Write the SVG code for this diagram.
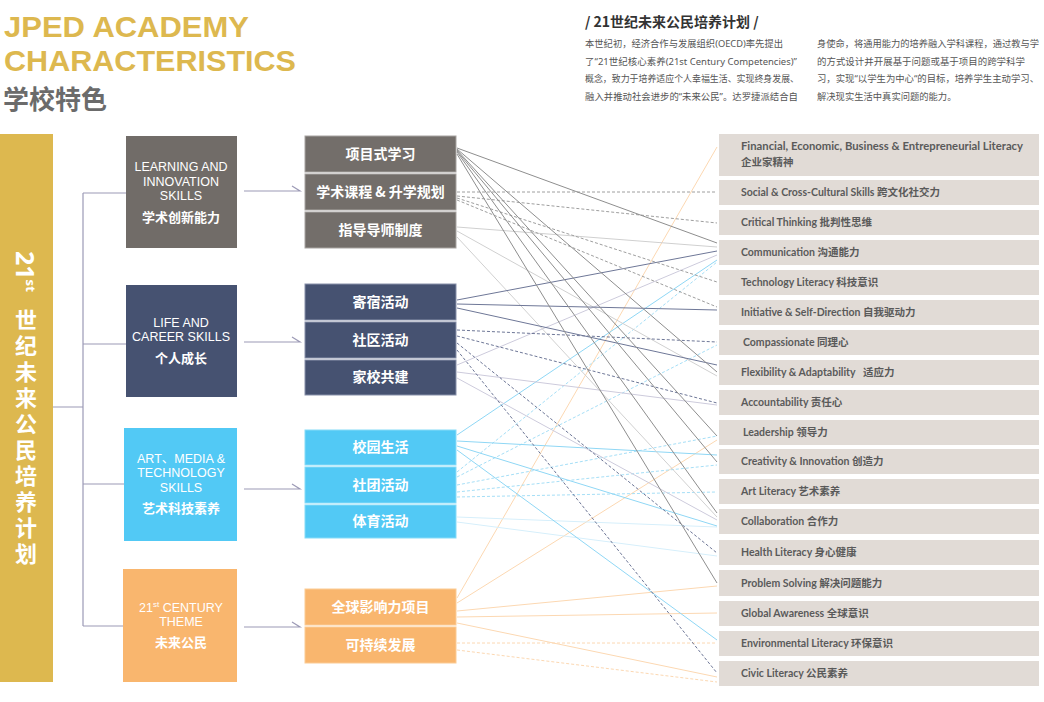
<svg xmlns="http://www.w3.org/2000/svg" width="1044" height="702" viewBox="0 0 1044 702">
<style>
.title{font-family:"Liberation Sans",Arial,sans-serif;font-weight:700;fill:#DDB84F;font-size:30px}
.cn{font-family:"Noto Sans CJK SC","Noto Sans",sans-serif}
.body{font-family:"Noto Sans","Noto Sans CJK SC",sans-serif;font-size:9.3px;fill:#555}
.cat{font-family:"Liberation Sans","Noto Sans CJK SC",sans-serif;font-size:12.5px;fill:#fff;text-anchor:middle}
.catcn{font-family:"Noto Sans CJK SC",sans-serif;font-size:13px;font-weight:700;fill:#fff;text-anchor:middle}
.mid{font-family:"Noto Sans CJK SC",sans-serif;font-size:14px;font-weight:700;fill:#fff;text-anchor:middle}
.rt{font-family:Lato,"Noto Sans CJK SC",sans-serif;font-size:10.5px;font-weight:700;fill:#5a5a5a}
.rbox{fill:#E1DBD6}
.tree{fill:none;stroke:#9C9AB6;stroke-width:1.2}
.c line{stroke-width:1;fill:none}
.g{stroke:#8E8E8E}
.gd{stroke:#9E9E9E;stroke-dasharray:3 2}
.lg{stroke:#D0D0D0}
.nv{stroke:#6E7797}
.nvd{stroke:#6E7797;stroke-dasharray:3 2}
.lv{stroke:#CDCBDC}
.lb{stroke:#8FD7F5}
.lbd{stroke:#A6DFF7;stroke-dasharray:3 2}
.vlb{stroke:#D6EFFB}
.or{stroke:#FCD8B2}
.ord{stroke:#FCD8B2;stroke-dasharray:3 2}
</style>

<!-- Header -->
<g id="header">
<text class="title" x="4" y="37" textLength="245" lengthAdjust="spacingAndGlyphs">JPED ACADEMY</text>
<text class="title" x="4" y="71" textLength="292" lengthAdjust="spacingAndGlyphs">CHARACTERISTICS</text>
<text class="cn" x="3" y="109" font-size="26" font-weight="700" fill="#6B6B6B">学校特色</text>
<text class="cn" x="585" y="27" font-size="14" font-weight="700" fill="#333">/  21世纪未来公民培养计划  /</text>
<g class="body">
<text x="585" y="47" textLength="198" lengthAdjust="spacingAndGlyphs">本世纪初，经济合作与发展组织(OECD)率先提出</text>
<text x="585" y="65" textLength="212" lengthAdjust="spacingAndGlyphs">了“21世纪核心素养(21st Century Competencies)”</text>
<text x="585" y="82" textLength="214" lengthAdjust="spacingAndGlyphs">概念，致力于培养适应个人幸福生活、实现终身发展、</text>
<text x="585" y="100" textLength="213" lengthAdjust="spacingAndGlyphs">融入并推动社会进步的“未来公民”。达罗捷派结合自</text>
<text x="817" y="47" textLength="222" lengthAdjust="spacingAndGlyphs">身使命，将通用能力的培养融入学科课程，通过教与学</text>
<text x="817" y="65" textLength="208" lengthAdjust="spacingAndGlyphs">的方式设计并开展基于问题或基于项目的跨学科学</text>
<text x="817" y="82" textLength="222" lengthAdjust="spacingAndGlyphs">习，实现“以学生为中心“的目标，培养学生主动学习、</text>
<text x="817" y="100">解决现实生活中真实问题的能力。</text>
</g>
</g>

<!-- Left bar -->
<g id="bar">
<rect x="0" y="134" width="53" height="548" fill="#DDB84F"/>
<text transform="translate(16,251) rotate(90)" font-family="Noto Sans,Liberation Sans,sans-serif" font-size="25" font-weight="700" fill="#fff">21<tspan font-size="13" dy="-10">st</tspan></text>
<text class="cn" x="26" y="309" font-size="22" font-weight="700" fill="#fff" style="writing-mode:vertical-rl" letter-spacing="4">世纪未来公民培养计划</text>
</g>

<!-- Tree -->
<g id="tree" class="tree">
<path d="M53,407 H83 M83,193 V626 M83,193 H126 M83,344 H126 M83,484 H124 M83,626 H123"/>
<path d="M244,191 H300 L292,186 M244,342 H300 L292,337 M244,489 H300 L292,484 M244,627 H300 L292,622"/>
</g>

<!-- Category nodes -->
<g id="cat-learning">
<rect x="126" y="136" width="111" height="112" fill="#716C68"/>
<text class="cat" x="181" y="171">LEARNING AND</text>
<text class="cat" x="181" y="186">INNOVATION</text>
<text class="cat" x="181" y="200">SKILLS</text>
<text class="catcn" x="181" y="222">学术创新能力</text>
</g>
<g id="cat-life">
<rect x="126" y="285" width="111" height="112" fill="#465271"/>
<text class="cat" x="181" y="327">LIFE AND</text>
<text class="cat" x="181" y="341">CAREER SKILLS</text>
<text class="catcn" x="181" y="363">个人成长</text>
</g>
<g id="cat-art">
<rect x="124" y="428" width="113" height="113" fill="#52C9F5"/>
<text class="cat" x="181" y="463">ART、MEDIA &amp;</text>
<text class="cat" x="181" y="477">TECHNOLOGY</text>
<text class="cat" x="181" y="492">SKILLS</text>
<text class="catcn" x="181" y="513">艺术科技素养</text>
</g>
<g id="cat-theme">
<rect x="123" y="569" width="114" height="113" fill="#F9B66E"/>
<text class="cat" x="181" y="612">21<tspan font-size="8" dy="-5">st</tspan><tspan dy="5"> CENTURY</tspan></text>
<text class="cat" x="181" y="626">THEME</text>
<text class="catcn" x="181" y="647">未来公民</text>
</g>

<!-- Middle nodes -->
<g id="mid-1"><rect x="305" y="136" width="151" height="36" fill="#736E6A" stroke="#A8A4A1"/><text class="mid" x="380.5" y="159">项目式学习</text></g>
<g id="mid-2"><rect x="305" y="174" width="151" height="36" fill="#736E6A" stroke="#A8A4A1"/><text class="mid" x="380.5" y="197">学术课程 &amp; 升学规划</text></g>
<g id="mid-3"><rect x="305" y="212" width="151" height="36" fill="#736E6A" stroke="#A8A4A1"/><text class="mid" x="380.5" y="235">指导导师制度</text></g>
<g id="mid-4"><rect x="305" y="284" width="151" height="36" fill="#465271" stroke="#8790AA"/><text class="mid" x="380.5" y="307">寄宿活动</text></g>
<g id="mid-5"><rect x="305" y="322" width="151" height="36" fill="#465271" stroke="#8790AA"/><text class="mid" x="380.5" y="345">社区活动</text></g>
<g id="mid-6"><rect x="305" y="360" width="151" height="35" fill="#465271" stroke="#8790AA"/><text class="mid" x="380.5" y="382">家校共建</text></g>
<g id="mid-7"><rect x="305" y="430" width="151" height="35" fill="#52C9F5" stroke="#86DBF8"/><text class="mid" x="380.5" y="452">校园生活</text></g>
<g id="mid-8"><rect x="305" y="467" width="151" height="36" fill="#52C9F5" stroke="#86DBF8"/><text class="mid" x="380.5" y="490">社团活动</text></g>
<g id="mid-9"><rect x="305" y="505" width="151" height="33" fill="#52C9F5" stroke="#86DBF8"/><text class="mid" x="380.5" y="526">体育活动</text></g>
<g id="mid-10"><rect x="305" y="589" width="151" height="36" fill="#F9B66E" stroke="#FBCB94"/><text class="mid" x="380.5" y="612">全球影响力项目</text></g>
<g id="mid-11"><rect x="305" y="627" width="151" height="36" fill="#F9B66E" stroke="#FBCB94"/><text class="mid" x="380.5" y="650">可持续发展</text></g>

<!-- Connectors -->
<g id="connectors" class="c">
<line class="or" x1="457" y1="598" x2="717" y2="147"/>
<line class="or" x1="457" y1="603" x2="717" y2="440"/>
<line class="or" x1="457" y1="611" x2="717" y2="586"/>
<line class="or" x1="457" y1="617" x2="717" y2="613"/>
<line class="or" x1="457" y1="623" x2="717" y2="677"/>
<line class="ord" x1="457" y1="643" x2="717" y2="643"/>
<line class="ord" x1="457" y1="650" x2="717" y2="682"/>
<line class="vlb" x1="457" y1="517" x2="717" y2="527"/>
<line class="vlb" x1="457" y1="522" x2="717" y2="556"/>
<line class="lbd" x1="457" y1="472" x2="717" y2="262"/>
<line class="lbd" x1="457" y1="477" x2="717" y2="345"/>
<line class="lbd" x1="457" y1="485" x2="717" y2="436"/>
<line class="lbd" x1="457" y1="492" x2="717" y2="465"/>
<line class="lbd" x1="457" y1="497" x2="717" y2="492"/>
<line class="lb" x1="457" y1="435" x2="717" y2="260"/>
<line class="lb" x1="457" y1="441" x2="717" y2="455"/>
<line class="lb" x1="457" y1="446" x2="717" y2="526"/>
<line class="lb" x1="457" y1="450" x2="717" y2="640"/>
<line class="lv" x1="457" y1="365" x2="717" y2="255"/>
<line class="lv" x1="457" y1="372" x2="717" y2="405"/>
<line class="lv" x1="457" y1="378" x2="717" y2="520"/>
<line class="lg" x1="457" y1="227" x2="717" y2="247"/>
<line class="lg" x1="457" y1="231" x2="717" y2="376"/>
<line class="lg" x1="457" y1="237" x2="717" y2="517"/>
<line class="nvd" x1="457" y1="330" x2="717" y2="342"/>
<line class="nvd" x1="457" y1="336" x2="717" y2="403"/>
<line class="nvd" x1="457" y1="343" x2="717" y2="553"/>
<line class="nvd" x1="457" y1="350" x2="717" y2="673"/>
<line class="nv" x1="457" y1="300" x2="717" y2="251"/>
<line class="nv" x1="457" y1="304" x2="717" y2="310"/>
<line class="nv" x1="457" y1="308" x2="717" y2="365"/>
<line class="gd" x1="457" y1="192" x2="717" y2="192"/>
<line class="gd" x1="457" y1="196" x2="717" y2="223"/>
<line class="gd" x1="457" y1="198" x2="717" y2="282"/>
<line class="gd" x1="457" y1="200" x2="717" y2="307"/>
<line class="g" x1="457" y1="148" x2="717" y2="243"/>
<line class="g" x1="457" y1="149" x2="717" y2="372"/>
<line class="g" x1="457" y1="150" x2="717" y2="436"/>
<line class="g" x1="457" y1="151" x2="717" y2="462"/>
<line class="g" x1="457" y1="152" x2="717" y2="513"/>
<line class="g" x1="457" y1="154" x2="717" y2="583"/>
</g>

<!-- Right nodes -->
<g id="r1"><rect class="rbox" x="719" y="134" width="320" height="42"/><text class="rt" x="741" y="150" textLength="282" lengthAdjust="spacingAndGlyphs">Financial, Economic, Business &amp; Entrepreneurial Literacy</text><text class="rt" x="741" y="166">企业家精神</text></g>
<g id="r2"><rect class="rbox" x="719" y="180" width="320" height="25"/><text class="rt" x="741" y="196">Social &amp; Cross-Cultural Skills 跨文化社交力</text></g>
<g id="r3"><rect class="rbox" x="719" y="210" width="320" height="25"/><text class="rt" x="741" y="226">Critical Thinking 批判性思维</text></g>
<g id="r4"><rect class="rbox" x="719" y="240" width="320" height="25"/><text class="rt" x="741" y="256">Communication 沟通能力</text></g>
<g id="r5"><rect class="rbox" x="719" y="270" width="320" height="25"/><text class="rt" x="741" y="286">Technology Literacy 科技意识</text></g>
<g id="r6"><rect class="rbox" x="719" y="300" width="320" height="25"/><text class="rt" x="741" y="316">Initiative &amp; Self-Direction  自我驱动力</text></g>
<g id="r7"><rect class="rbox" x="719" y="330" width="320" height="25"/><text class="rt" x="743" y="346">Compassionate 同理心</text></g>
<g id="r8"><rect class="rbox" x="719" y="360" width="320" height="25"/><text class="rt" x="741" y="376" xml:space="preserve">Flexibility &amp; Adaptability   适应力</text></g>
<g id="r9"><rect class="rbox" x="719" y="390" width="320" height="25"/><text class="rt" x="741" y="406">Accountability 责任心</text></g>
<g id="r10"><rect class="rbox" x="719" y="420" width="320" height="25"/><text class="rt" x="743" y="436">Leadership 领导力</text></g>
<g id="r11"><rect class="rbox" x="719" y="449" width="320" height="25"/><text class="rt" x="741" y="465">Creativity &amp; Innovation 创造力</text></g>
<g id="r12"><rect class="rbox" x="719" y="479" width="320" height="25"/><text class="rt" x="741" y="495">Art Literacy 艺术素养</text></g>
<g id="r13"><rect class="rbox" x="719" y="509" width="320" height="25"/><text class="rt" x="741" y="525">Collaboration 合作力</text></g>
<g id="r14"><rect class="rbox" x="719" y="540" width="320" height="25"/><text class="rt" x="741" y="556">Health Literacy 身心健康</text></g>
<g id="r15"><rect class="rbox" x="719" y="570" width="320" height="26"/><text class="rt" x="741" y="587">Problem Solving 解决问题能力</text></g>
<g id="r16"><rect class="rbox" x="719" y="601" width="320" height="25"/><text class="rt" x="741" y="617">Global Awareness 全球意识</text></g>
<g id="r17"><rect class="rbox" x="719" y="631" width="320" height="25"/><text class="rt" x="741" y="647">Environmental Literacy 环保意识</text></g>
<g id="r18"><rect class="rbox" x="719" y="661" width="320" height="25"/><text class="rt" x="741" y="677">Civic Literacy 公民素养</text></g>
</svg>
